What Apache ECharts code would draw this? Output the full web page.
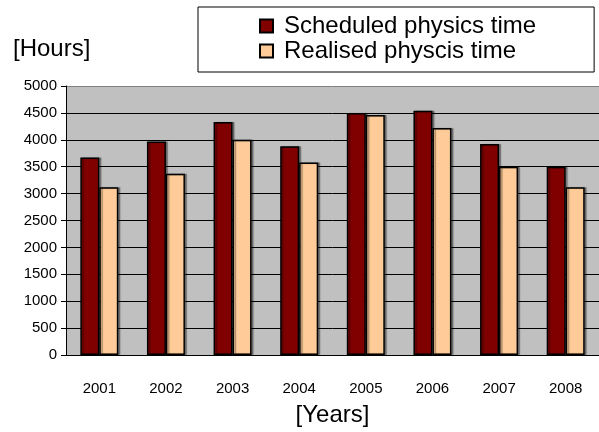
<!DOCTYPE html>
<html lang="en">

<head>
  <meta charset='utf-8'>
  <title>Scheduled vs realised physics time</title>
  <style>
    html, body { margin: 0; padding: 0; background: #fff; }
  </style>
</head>

<body>
  <div id="myCharts" style="width: 599px;height:432px;"></div>
  <script src="https://cdn.jsdelivr.net/npm/echarts@6/dist/echarts.min.js"></script>
  <script type="text/javascript">
    // years on the x axis
    var years = ['2001', '2002', '2003', '2004', '2005', '2006', '2007', '2008'];
    // hours
    var scheduled = [3670, 3970, 4330, 3880, 4500, 4540, 3920, 3500];
    var realised = [3120, 3370, 4000, 3580, 4460, 4220, 3500, 3120];
    var seriesNames = ['Scheduled physics time', 'Realised physcis time'];

    var font = 'Liberation Sans, Arial, sans-serif';
    // grid lines: black, top one grey
    var gridColors = ['#000', '#000', '#000', '#000', '#000', '#000', '#000', '#000', '#000', '#000', '#808080'];

    var myChart = echarts.init(document.getElementById('myCharts'));

    function barStyle(color) {
      return {
        color: color,
        borderColor: '#000',
        borderWidth: 1.5,
        shadowColor: 'rgba(0,0,0,0.35)',
        shadowOffsetX: 2,
        shadowOffsetY: 0,
        shadowBlur: 1
      };
    }

    var chartOption = {
      backgroundColor: '#fff',
      animation: false,
      textStyle: { fontFamily: font, color: '#000' },
      grid: {
        left: 66,
        top: 86,
        width: 541,
        height: 275,
        show: true,
        backgroundColor: '#C0C0C0',
        borderWidth: 0
      },
      legend: {
        orient: 'vertical',
        left: 198,
        top: 7,
        padding: [7, 58, 9, 61],
        itemGap: 1,
        itemWidth: 13,
        itemHeight: 13,
        icon: 'rect',
        borderColor: '#000',
        borderWidth: 1,
        borderRadius: 0,
        backgroundColor: '#fff',
        textStyle: { fontFamily: font, fontSize: 24, color: '#000', padding: [0, 0, 0, 6] },
        data: seriesNames
      },
      graphic: [{
        type: 'text',
        left: 13,
        top: 37,
        style: { text: '[Hours]', font: '24px ' + font, fill: '#000' }
      }],
      xAxis: {
        type: 'category',
        data: years,
        name: '[Years]',
        nameLocation: 'middle',
        nameGap: 48,
        nameTextStyle: { fontSize: 24, color: '#000' },
        axisLine: { lineStyle: { color: '#000', width: 1 } },
        axisTick: { length: 5, lineStyle: { color: '#000' } },
        axisLabel: { fontSize: 15, color: '#000', margin: 26 }
      },
      yAxis: {
        type: 'value',
        min: 0,
        max: 5000,
        interval: 500,
        axisLine: { show: true, lineStyle: { color: '#000', width: 1 } },
        axisTick: { show: true, length: 5, lineStyle: { color: '#000' } },
        axisLabel: {
          fontSize: 15,
          color: '#000',
          margin: 9,
          formatter: function (v) { return String(v); }
        },
        splitLine: { lineStyle: { color: gridColors, width: 1 } }
      },
      series: [
        {
          name: seriesNames[0],
          type: 'bar',
          barWidth: 19,
          barGap: '0%',
          itemStyle: barStyle('#800000'),
          data: scheduled
        },
        {
          name: seriesNames[1],
          type: 'bar',
          barWidth: 19,
          barGap: '0%',
          itemStyle: barStyle('#FFCC99'),
          data: realised
        }
      ]
    };
    myChart.setOption(chartOption);
  </script>
</body>

</html>
